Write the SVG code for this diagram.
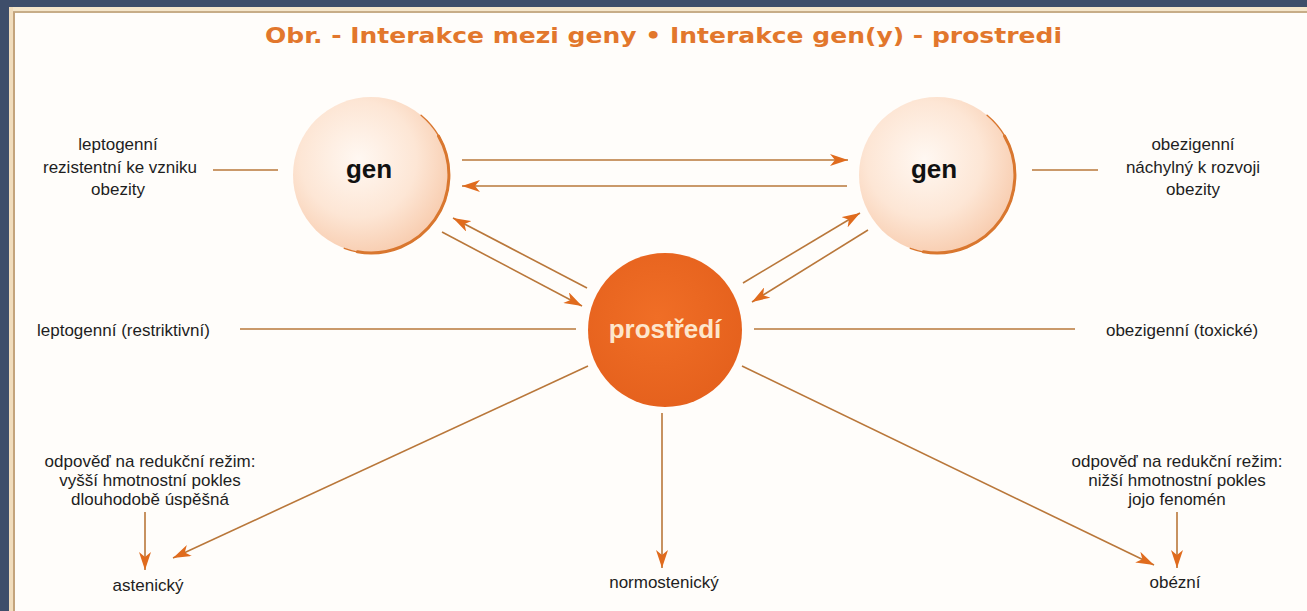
<svg xmlns="http://www.w3.org/2000/svg" width="1307" height="611" viewBox="0 0 1307 611">
<defs>
<style>
.lbl{font-family:"Liberation Sans",Arial,sans-serif;font-size:17px;fill:#1e1e1e;}
.mid{text-anchor:middle;}
.conn{stroke:#b9773a;stroke-width:1.6;fill:none;}
.arr{marker-end:url(#ah);}
.gen{font-family:"Liberation Sans",Arial,sans-serif;font-size:26px;font-weight:bold;fill:#111;text-anchor:middle;}
.rim{fill:none;stroke:#d9772f;stroke-linecap:round;}
</style>
<radialGradient id="gGen" cx="0.42" cy="0.4" r="0.62">
<stop offset="0" stop-color="#fff8f2"/>
<stop offset="0.6" stop-color="#fde6d5"/>
<stop offset="1" stop-color="#f8cdb0"/>
</radialGradient>
<radialGradient id="gEnv" cx="0.45" cy="0.42" r="0.6">
<stop offset="0" stop-color="#f06e26"/>
<stop offset="1" stop-color="#e5611d"/>
</radialGradient>
<marker id="ah" viewBox="0 0 18 12" refX="18" refY="6" markerWidth="18" markerHeight="12" markerUnits="userSpaceOnUse" orient="auto">
<path d="M0,0 L18,6 L0,12 L5,6 z" fill="#e06b1d"/>
</marker>
</defs>

<rect x="0" y="0" width="1307" height="611" fill="#3e4e6a"/>
<rect x="9" y="7" width="1298" height="604" fill="#fffdfa"/>
<g id="frame">
<rect x="9" y="7" width="1298" height="4" fill="#f5e6cb"/>
<rect x="9" y="7" width="4" height="604" fill="#f1ddbd"/>
<line x1="13" y1="12" x2="1307" y2="12" stroke="#c7ad88" stroke-width="2"/>
<line x1="14" y1="12" x2="14" y2="611" stroke="#c4a47c" stroke-width="2"/>
</g>

<text id="title" x="265" y="43" textLength="797" lengthAdjust="spacingAndGlyphs" font-family="'DejaVu Sans','Liberation Sans',sans-serif" font-size="22" font-weight="bold" fill="#e2772c">Obr. - Interakce mezi geny • Interakce gen(y) - prostredi</text>

<g id="connectors">
<line class="conn" x1="213" y1="170" x2="278" y2="170"/>
<line class="conn" x1="1032" y1="170" x2="1098" y2="170"/>
<line class="conn arr" x1="462" y1="160" x2="848" y2="160"/>
<line class="conn arr" x1="847" y1="186" x2="462" y2="186"/>
<line class="conn arr" x1="587" y1="288" x2="453" y2="218"/>
<line class="conn arr" x1="442" y1="232" x2="582" y2="306"/>
<line class="conn arr" x1="743" y1="283" x2="860" y2="213"/>
<line class="conn arr" x1="868" y1="230" x2="752" y2="302"/>
<line class="conn" x1="240" y1="329" x2="576" y2="329"/>
<line class="conn" x1="754" y1="329" x2="1075" y2="329"/>
<line class="conn arr" x1="588" y1="366" x2="173" y2="558"/>
<line class="conn arr" x1="662" y1="413" x2="662" y2="568"/>
<line class="conn arr" x1="742" y1="366" x2="1154" y2="565"/>
<line class="conn arr" x1="145" y1="512" x2="145" y2="570"/>
<line class="conn arr" x1="1177" y1="512" x2="1177" y2="568"/>
</g>

<g id="node-gen-left">
<circle cx="371" cy="175" r="78" fill="url(#gGen)"/>
<path class="rim" stroke-width="1.4" d="M421.1,115.2 A78,78 0 0 1 344.3,248.3"/>
<path class="rim" stroke-width="3" d="M438.5,136 A78,78 0 0 1 357.5,251.8"/>
<text class="gen" x="369" y="178">gen</text>
</g>

<g id="node-gen-right">
<circle cx="937" cy="175" r="78" fill="url(#gGen)"/>
<path class="rim" stroke-width="1.4" d="M987.1,115.2 A78,78 0 0 1 910.3,248.3"/>
<path class="rim" stroke-width="3" d="M1004.5,136 A78,78 0 0 1 923.5,251.8"/>
<text class="gen" x="934" y="178">gen</text>
</g>

<g id="node-prostredi">
<circle cx="665" cy="330" r="77" fill="url(#gEnv)"/>
<text x="665" y="338" text-anchor="middle" font-family="'Liberation Sans',Arial,sans-serif" font-size="26" font-weight="bold" fill="#fde6cc">prostředí</text>
</g>

<g id="label-leptogenni">
<text class="lbl mid" x="118" y="150">leptogenní</text>
<text class="lbl mid" x="120" y="173">rezistentní ke vzniku</text>
<text class="lbl mid" x="118" y="195">obezity</text>
</g>
<g id="label-obezigenni">
<text class="lbl mid" x="1193" y="150">obezigenní</text>
<text class="lbl mid" x="1193" y="173">náchylný k rozvoji</text>
<text class="lbl mid" x="1193" y="195">obezity</text>
</g>
<g id="label-restriktivni">
<text class="lbl" x="37" y="336">leptogenní (restriktivní)</text>
</g>
<g id="label-toxicke">
<text class="lbl mid" x="1182" y="336">obezigenní (toxické)</text>
</g>
<g id="label-odpoved-left">
<text class="lbl mid" x="150" y="467">odpověď na redukční režim:</text>
<text class="lbl mid" x="150" y="486">vyšší hmotnostní pokles</text>
<text class="lbl mid" x="150" y="505">dlouhodobě úspěšná</text>
</g>
<g id="label-odpoved-right">
<text class="lbl mid" x="1177" y="467">odpověď na redukční režim:</text>
<text class="lbl mid" x="1177" y="486">nižší hmotnostní pokles</text>
<text class="lbl mid" x="1177" y="505">jojo fenomén</text>
</g>
<g id="node-astenicky"><text class="lbl mid" x="148" y="591">astenický</text></g>
<g id="node-normostenicky"><text class="lbl mid" x="664" y="588">normostenický</text></g>
<g id="node-obezni"><text class="lbl mid" x="1175" y="588">obézní</text></g>
</svg>
